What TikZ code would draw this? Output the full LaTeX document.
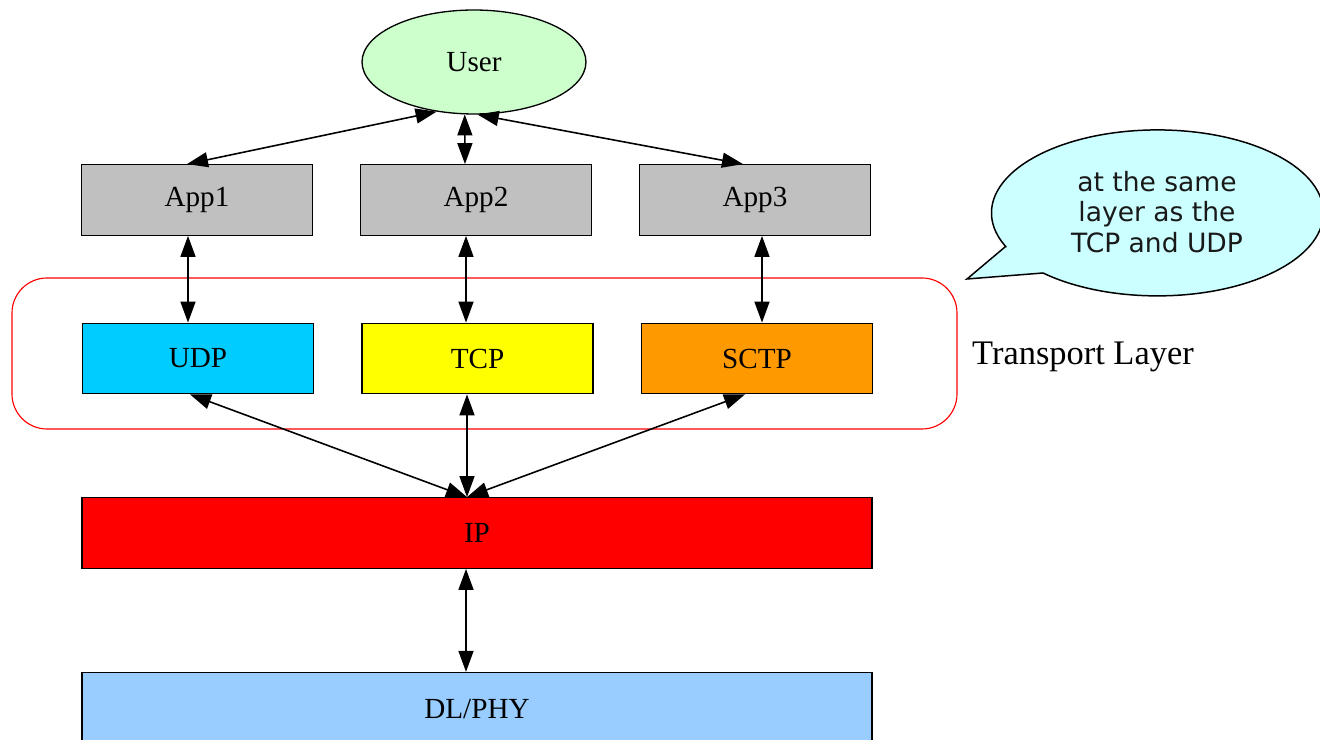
\documentclass[tikz,border=0pt]{standalone}
\usepackage{fontspec}
\setmainfont{Liberation Serif}
\newfontfamily\calloutfont{DejaVu Sans}
\usetikzlibrary{arrows.meta,shapes.geometric,calc}
\definecolor{usergreen}{HTML}{CCFFCC}
\definecolor{appgray}{HTML}{C0C0C0}
\definecolor{udpblue}{HTML}{00CCFF}
\definecolor{tcpyellow}{HTML}{FFFF00}
\definecolor{sctporange}{HTML}{FF9900}
\definecolor{ipred}{HTML}{FF0000}
\definecolor{dlblue}{HTML}{99CCFF}
\definecolor{calloutcyan}{HTML}{CCFFFF}
\tikzset{
  layerbox/.style={draw=black, line width=0.75pt, rectangle, inner sep=0pt,
    minimum width=4.62cm, minimum height=1.41cm, font=\fontsize{16.6}{19}\selectfont},
  widebox/.style={layerbox, minimum width=15.8cm},
  link/.style={line width=0.9pt, {Triangle[length=0.42cm,width=0.3cm]}-{Triangle[length=0.42cm,width=0.3cm]}},
}
\begin{document}
\begin{tikzpicture}[x=0.02cm,y=0.02cm]
\useasboundingbox (0,0) rectangle (1320,740);
% transport layer frame
\draw[red, line width=0.65pt, rounded corners=0.7cm] (12,311) rectangle (957,462);
\node[font=\fontsize{19.6}{22}\selectfont] (tl) at (1083,383) {Transport Layer};
% nodes
\node[ellipse, draw=black, line width=0.75pt, fill=usergreen, inner sep=0pt,
  minimum width=4.48cm, minimum height=2.08cm, font=\fontsize{16.6}{19}\selectfont] (user) at (474,678) {User};
\node[layerbox, fill=appgray] (app1) at (197,540) {App1};
\node[layerbox, fill=appgray] (app2) at (476,540) {App2};
\node[layerbox, fill=appgray] (app3) at (755,540) {App3};
\node[layerbox, fill=udpblue] (udp) at (198,381.5) {UDP};
\node[layerbox, fill=tcpyellow] (tcp) at (477.5,381.5) {TCP};
\node[layerbox, fill=sctporange] (sctp) at (757,381.5) {SCTP};
\node[widebox, fill=ipred] (ip) at (477,207) {IP};
\node[widebox, fill=dlblue, minimum height=1.46cm] (dl) at (477,31) {DL/PHY};
% callout
\coordinate (tailtip) at (967,461);
\fill[calloutcyan] (1005,493) -- (tailtip) -- (1043,467)
  arc[start angle=226.4, end angle=564, x radius=3.32cm, y radius=1.66cm] -- cycle;
\draw[line width=0.85pt, line join=miter] (1005,493) -- (tailtip) -- (1043,467)
  arc[start angle=226.4, end angle=564, x radius=3.32cm, y radius=1.66cm] -- cycle;
\node[align=center, text=black!90, font=\calloutfont\fontsize{15.1}{17.3}\selectfont] (note) at (1157,528)
  {at the same\\layer as the\\TCP and UDP};
% connectors
\draw[link] (user.233.5) -- ([xshift=-0.2cm]app1.north);
\draw[link] (user.260) -- ([xshift=-0.22cm]app2.north);
\draw[link] (user.274) -- ([xshift=-0.24cm]app3.north);
\draw[link] ([xshift=-0.18cm]app1.south) -- ([xshift=-0.2cm]udp.north);
\draw[link] ([xshift=-0.2cm]app2.south) -- ([xshift=-0.23cm]tcp.north);
\draw[link] ([xshift=0.14cm]app3.south) -- ([xshift=0.1cm]sctp.north);
\draw[link] ([xshift=-0.16cm]udp.south) -- ([xshift=-0.2cm]ip.north);
\draw[link] ([xshift=-0.21cm]tcp.south) -- ([xshift=-0.2cm]ip.north);
\draw[link] ([xshift=-0.24cm]sctp.south) -- ([xshift=-0.2cm]ip.north);
\draw[link] ([xshift=-0.22cm]ip.south) -- ([xshift=-0.22cm]dl.north);
\end{tikzpicture}
\end{document}
